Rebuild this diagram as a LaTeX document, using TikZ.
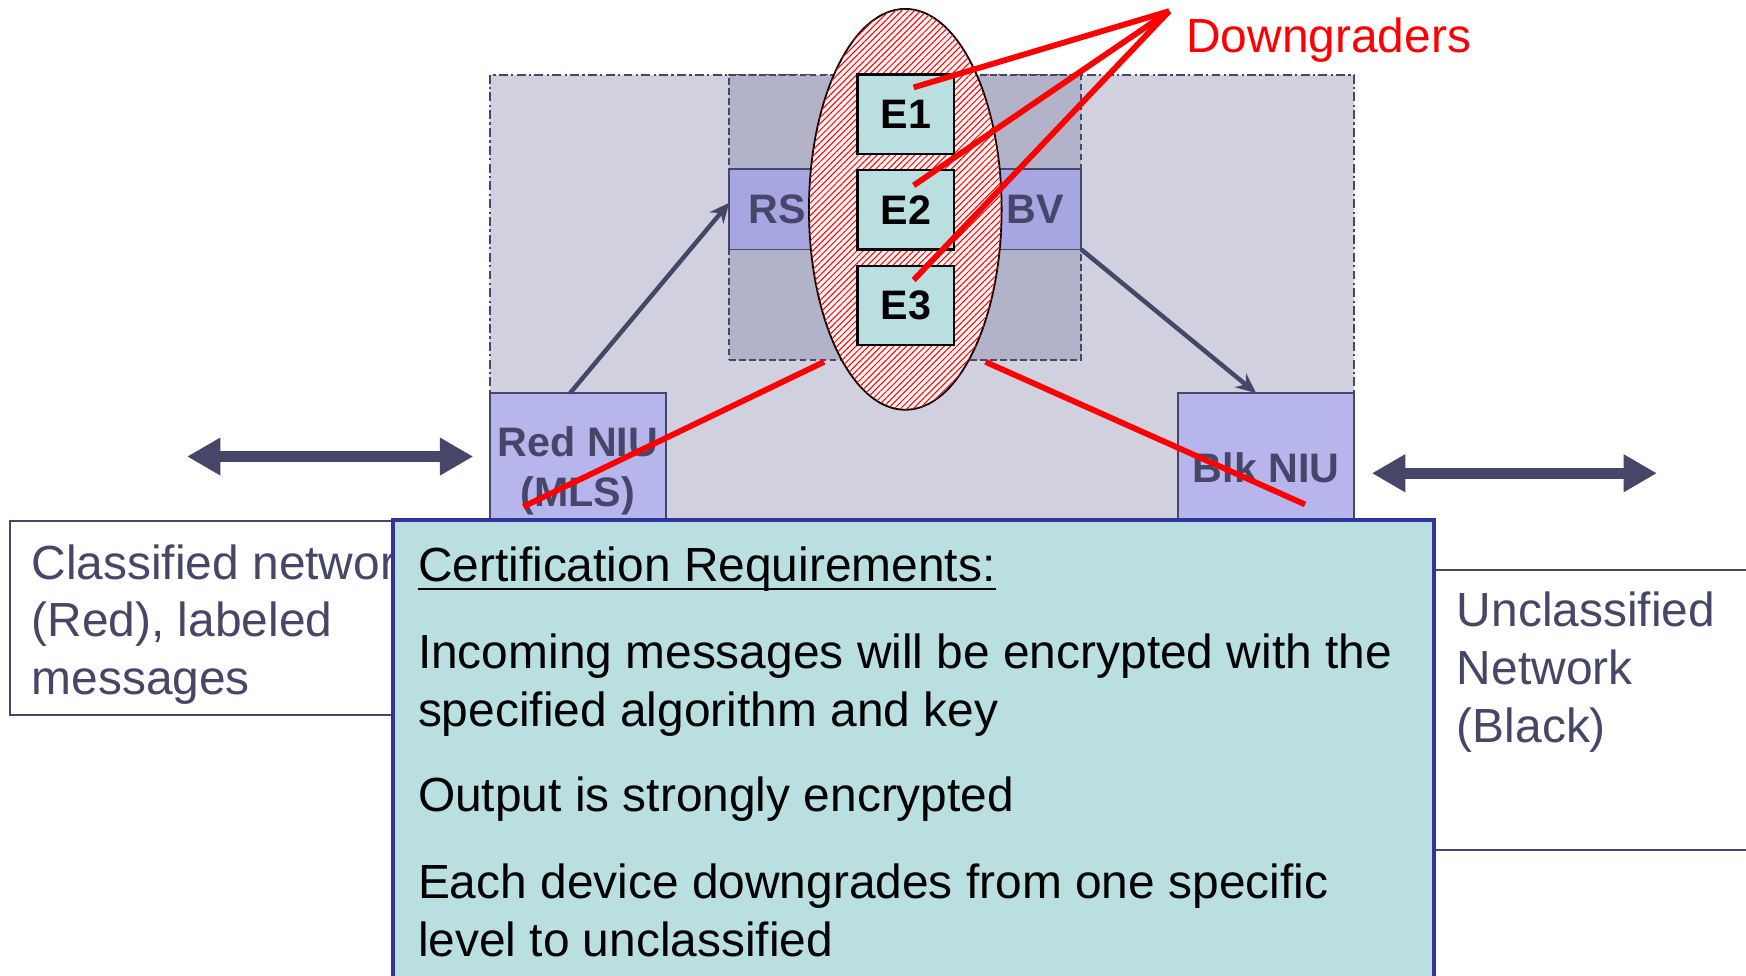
\documentclass[tikz,border=0pt]{standalone}
\usepackage{fontspec}
\setmainfont{Liberation Sans}
\usetikzlibrary{arrows.meta,patterns.meta,calc,shapes.geometric,fit}

\definecolor{slate}{HTML}{464668}
\definecolor{certfill}{HTML}{B9DFE1}
\definecolor{certedge}{HTML}{333399}
\definecolor{zonefill}{HTML}{D0D0DF}
\definecolor{corefill}{HTML}{B2B2C9}
\definecolor{bandfill}{HTML}{A6A6E3}
\definecolor{niufill}{HTML}{B6B6EC}
\definecolor{eboxfill}{HTML}{B9DFE1}
\definecolor{hatchbg}{HTML}{FFF4F4}

\tikzset{
  region/.style={inner sep=0pt, outer sep=0pt},
  niubox/.style={region, draw=slate, line width=1pt, fill=niufill},
  ebox/.style={draw=black, line width=1pt, fill=eboxfill, inner sep=0pt,
    minimum width=43.5pt, minimum height=35.5pt,
    font=\bfseries\fontsize{18.5}{22}\selectfont},
  blabel/.style={inner sep=0pt, text=slate, font=\bfseries\fontsize{18.5}{22}\selectfont},
  bodytext/.style={inner sep=0pt, anchor=base west, font=\fontsize{21.5}{26}\selectfont},
  sidetext/.style={bodytext, text=slate},
  flow/.style={draw=slate, line width=2pt, -{Stealth[length=9pt,width=8pt]}},
  link/.style={draw=slate, line width=5pt,
    {Triangle[length=15pt,width=16pt]}-{Triangle[length=15pt,width=16pt]}},
  pointer/.style={draw=red, line width=2.6pt},
}

\begin{document}
\begin{tikzpicture}[x=0.5pt,y=-0.5pt]
\useasboundingbox (0,0) rectangle (1568,876);
\clip (0,0) rectangle (1568,876);

% secure enclosure and its core
\node (zone) [region, fit={(440,67) (1216,467)}, fill=zonefill, draw=slate,
  line width=0.9pt, dash pattern=on 4pt off 1.5pt on 1pt off 1.5pt] {};
\node (core) [region, fit={(655,67) (971,323)}, fill=corefill, draw=slate,
  line width=0.9pt, dash pattern=on 3pt off 1.5pt] {};
\node (band) [region, fit={(655,152) (971,224)}, fill=bandfill, draw=slate, line width=0.8pt] {};
\node (rs) [blabel] at (698,188) {RS};
\node (bv) [blabel] at (930,188) {BV};

% network interface units
\node (rniu) [niubox, fit={(440,353) (598,480)}] {};
\node (rniu1) [blabel, anchor=base] at (519,410) {Red NIU};
\node (rniu2) [blabel, anchor=base] at (519,455) {(MLS)};
\node (bniu) [niubox, fit={(1058,353) (1216,480)}] {};
\node (bniu1) [blabel] at (1137,420) {Blk NIU};

% message flow
\draw[flow] ($(rniu.north)+(-7,0)$) -- ($(band.west)+(0,-6)$);
\draw[flow] (band.south east) -- ($(bniu.north)+(-9,0)$);

% downgrader group
\node (dgroup) [ellipse, draw=black, line width=0.8pt, fill=hatchbg,
  postaction={pattern={Lines[angle=45,distance=2pt,line width=0.45pt]}, pattern color=red},
  minimum width=86.5pt, minimum height=180pt, inner sep=0pt] at (813,188) {};
\node (e1) [ebox] at (813.5,102.5) {E1};
\node (e2) [ebox] at (813.5,188.5) {E2};
\node (e3) [ebox] at (813.5,274.5) {E3};

% callouts
\coordinate (apex) at (1050,10);
\node (dglabel) [inner sep=0pt, anchor=base west, text=red,
  font=\fontsize{21.5}{26}\selectfont] at (1065,47) {Downgraders};
\draw[pointer] (apex) -- ($(e1.center)+(7,-24)$);
\draw[pointer] (apex) -- ($(e2.center)+(7,-22)$);
\draw[pointer] (apex) -- ($(e3.center)+(7,-23)$);
\coordinate (cutL0) at (740,325);
\coordinate (cutL1) at (470,455);
\coordinate (cutR0) at (885,325);
\coordinate (cutR1) at (1172,453);
\draw[pointer] (cutL0) -- (cutL1);
\draw[pointer] (cutR0) -- (cutR1);

% external links
\coordinate (redA) at (168,410);
\coordinate (redB) at (425,410);
\coordinate (blkA) at (1232,425);
\coordinate (blkB) at (1488,425);
\draw[link] (redA) -- (redB);
\draw[link] (blkA) -- (blkB);

% network descriptions
\node (rednet) [region, fit={(9,468) (400,642)}, fill=white, draw=slate, line width=1pt] {};
\node (rt1) [sidetext] at (28,520) {Classified network};
\node (rt2) [sidetext] at (28,572) {(Red), labeled};
\node (rt3) [sidetext] at (28,624) {messages};
\node (blknet) [region, fit={(1250,512) (1600,763)}, fill=white, draw=slate, line width=1pt] {};
\node (bt1) [sidetext] at (1308,563) {Unclassified};
\node (bt2) [sidetext] at (1308,615) {Network};
\node (bt3) [sidetext] at (1308,667) {(Black)};

% requirements panel
\node (cert) [region, fit={(353,467) (1288,920)}, fill=certfill, draw=certedge, line width=2pt] {};
\node (c0) [bodytext] at (375,522) {Certification Requirements:};
\draw[black, line width=1.3pt] ($(c0.base west)+(0,7)$) -- ($(c0.base east)+(0,7)$);
\node (c1) [bodytext] at (375,600) {Incoming messages will be encrypted with the};
\node (c2) [bodytext] at (375,652) {specified algorithm and key};
\node (c3) [bodytext] at (375,729) {Output is strongly encrypted};
\node (c4) [bodytext] at (375,807) {Each device downgrades from one specific};
\node (c5) [bodytext] at (375,859) {level to unclassified};
\end{tikzpicture}
\end{document}
